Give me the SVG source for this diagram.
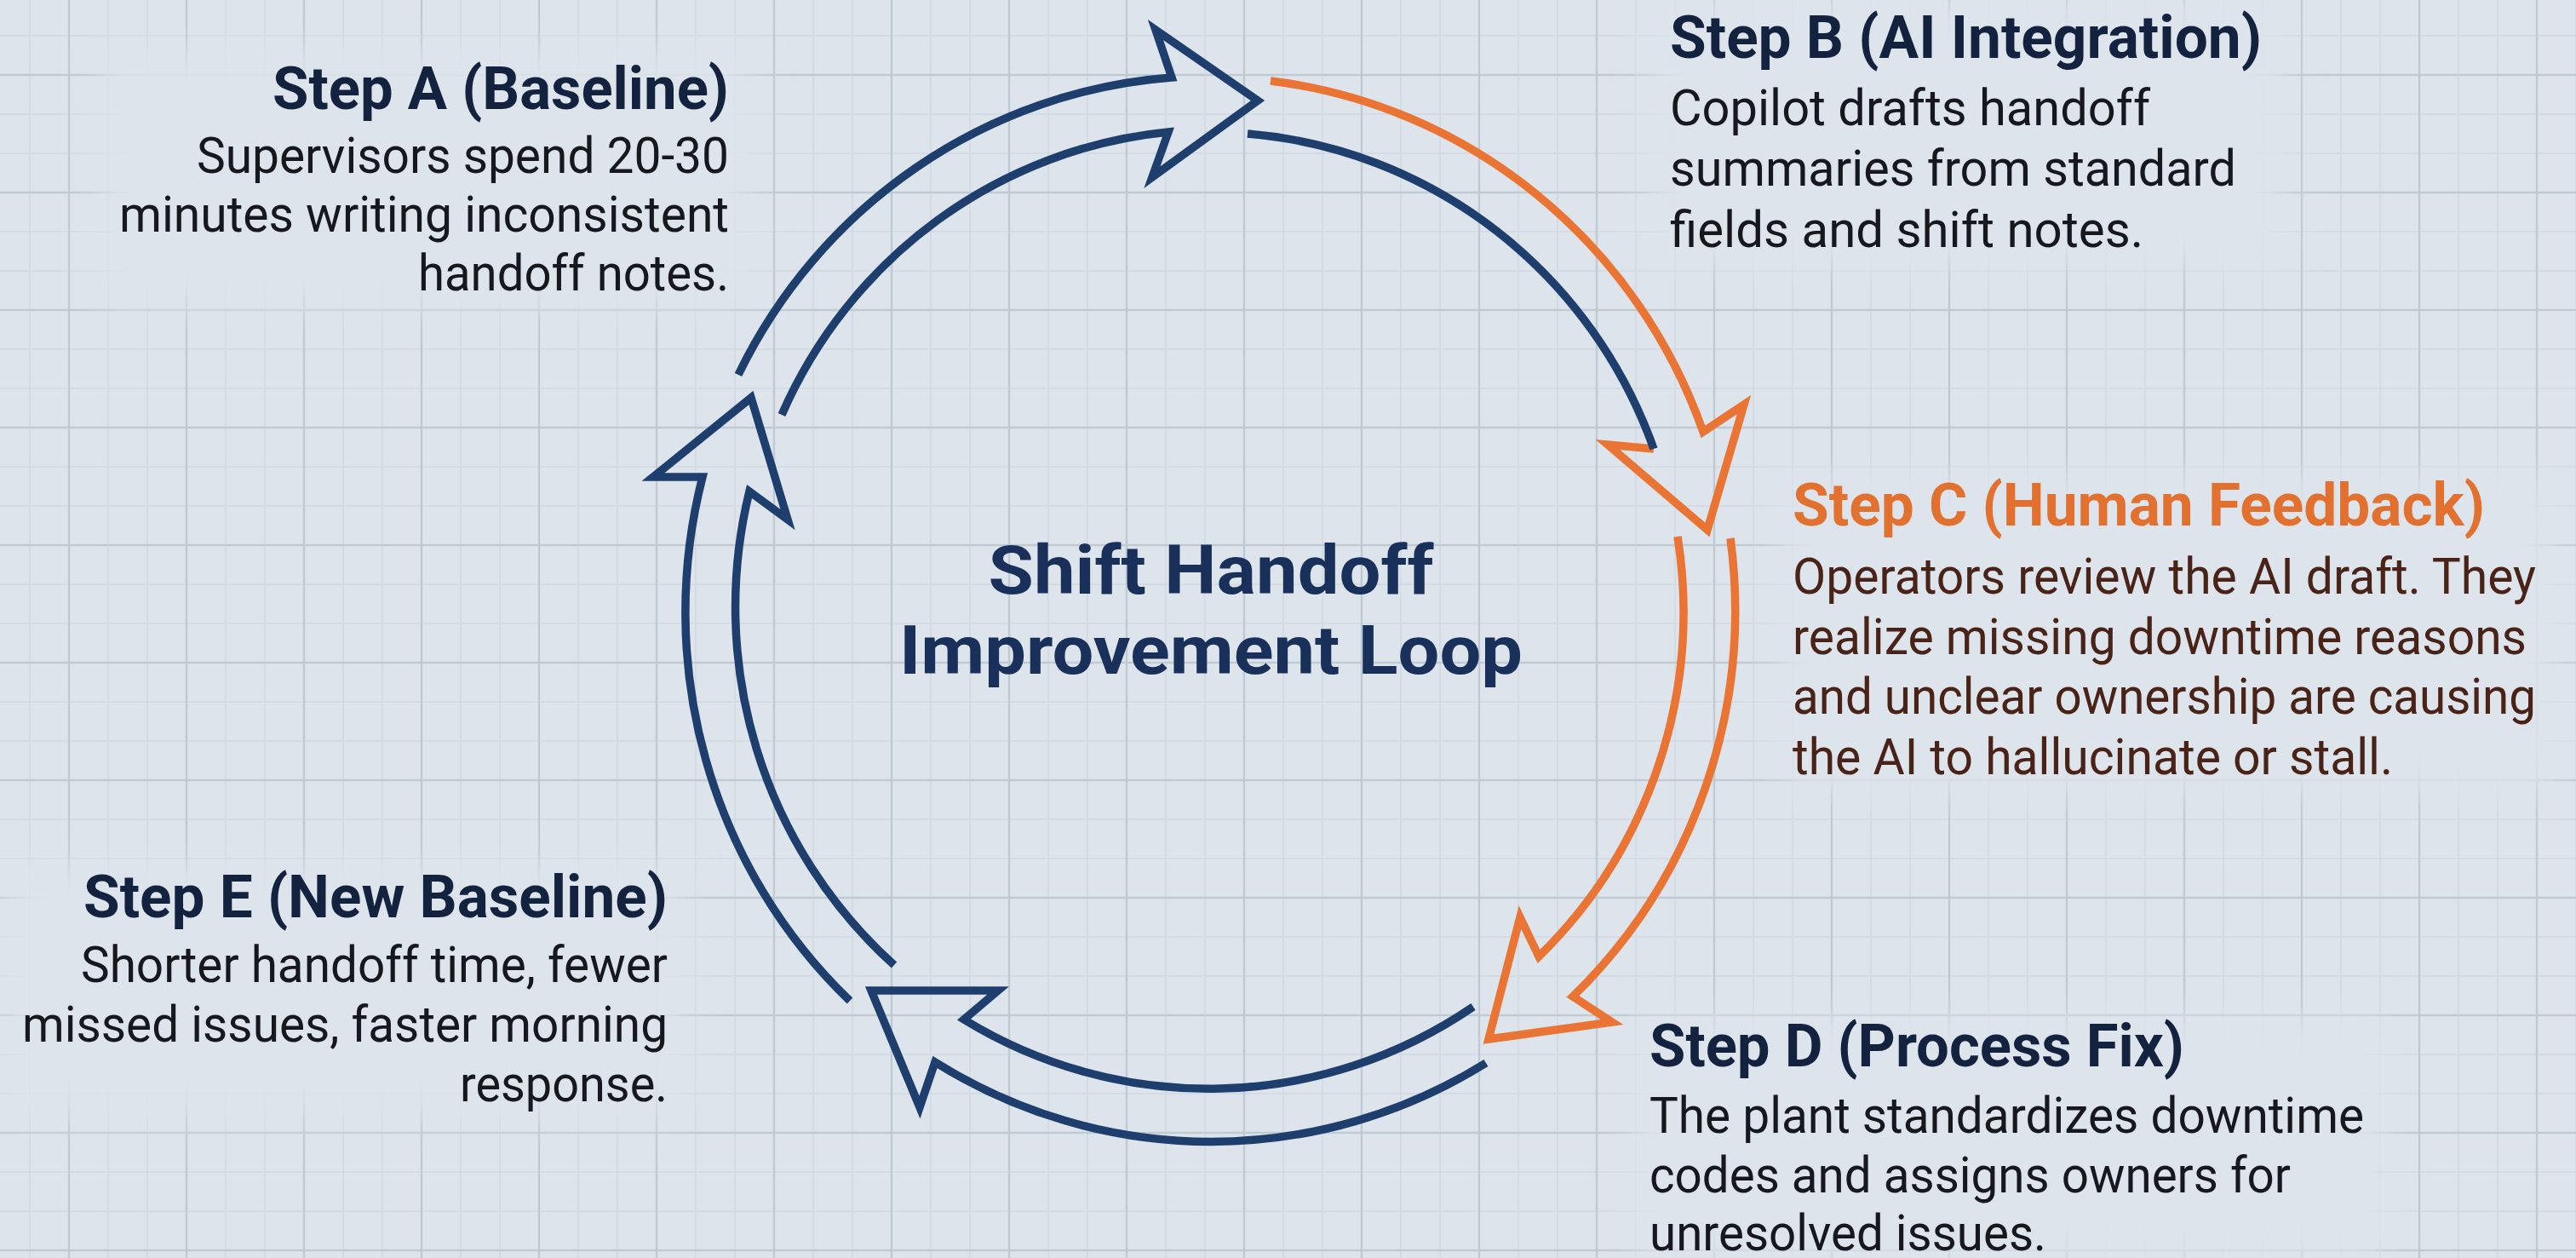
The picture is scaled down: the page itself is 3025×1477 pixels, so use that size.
<svg xmlns="http://www.w3.org/2000/svg" width="3025" height="1477" viewBox="0 0 3025 1477">
<defs>
<pattern id="grid" x="12" y="19" width="138" height="138" patternUnits="userSpaceOnUse">
<path d="M23 0V138M115 0V138M0 23H138M0 115H138" stroke="#d1d9e2" stroke-width="1.5" fill="none"/>
<path d="M69 0V138M0 69H138" stroke="#c0cad5" stroke-width="2.5" fill="none"/>
</pattern>
<filter id="soft" x="-20%" y="-30%" width="140%" height="160%"><feGaussianBlur stdDeviation="22"/></filter>
<style>
.bg{fill:#dde4eb}
.clear{fill:#dde4eb;filter:url(#soft)}
.h{font-family:Roboto,"Liberation Sans",sans-serif;font-weight:700;font-size:70px;fill:#13223f}
.b{font-family:Roboto,"Liberation Sans",sans-serif;font-weight:400;font-size:60px;fill:#16181d}
.end{text-anchor:end}
.hc{fill:#e2702e}
.bc{fill:#4a2318}
.t{font-family:Roboto,"Liberation Sans",sans-serif;font-weight:700;font-size:80px;fill:#18305a;text-anchor:middle}
.blue{fill:none;stroke:#1e3f6d;stroke-width:9.5;stroke-linejoin:miter;stroke-miterlimit:10}
.orange{fill:none;stroke:#ea7434;stroke-width:9.5;stroke-linejoin:miter;stroke-miterlimit:10}
</style>
</defs>
<rect class="bg" x="0" y="0" width="3025" height="1477"/>
<rect x="0" y="0" width="3025" height="1477" fill="url(#grid)"/>
<g id="halos">
<rect class="clear" x="120" y="60" width="760" height="300"/>
<rect class="clear" x="1940" y="5" width="740" height="305"/>
<rect class="clear" x="2090" y="560" width="910" height="370"/>
<rect class="clear" x="10" y="1015" width="790" height="295"/>
<rect class="clear" x="1920" y="1195" width="880" height="282"/>
</g>
<g id="connectors">
<path id="arrow-ab" class="blue" d="M867 440A618 628 0 0 1 1376 91L1357 35L1477 118L1353 208L1372 155A555 562 0 0 0 918 487"/>
<path id="arrow-bc" class="orange" d="M1492 95A618 628 0 0 1 2000 507L2048 475L2005 622L1888 522L1942 527"/>
<path id="arrow-bc-inner" class="blue" d="M1942 527A555 562 0 0 0 1465 157"/>
<path id="arrow-cd" class="orange" d="M2032 632A618 628 0 0 1 1847 1170L1893 1200L1748 1220L1785 1077L1807 1123A555 562 0 0 0 1970 630"/>
<path id="arrow-de" class="blue" d="M1745 1248A618 628 0 0 1 1098 1247L1080 1300L1023 1163L1172 1163L1132 1197A555 562 0 0 0 1730 1182"/>
<path id="arrow-ea" class="blue" d="M998 1175A618 628 0 0 1 825 560L767 560L882 467L925 610L880 577A555 562 0 0 0 1050 1133"/>
</g>
<g id="node-title">
<text class="t" x="1422" y="697" textLength="523" lengthAdjust="spacingAndGlyphs">Shift Handoff</text>
<text class="t" x="1422" y="791" textLength="732" lengthAdjust="spacingAndGlyphs">Improvement Loop</text>
</g>
<g id="node-a">
<text class="h end" x="856" y="128" textLength="536" lengthAdjust="spacingAndGlyphs">Step A (Baseline)</text>
<text class="b end" x="856" y="203" textLength="625" lengthAdjust="spacingAndGlyphs">Supervisors spend 20-30</text>
<text class="b end" x="856" y="272" textLength="716" lengthAdjust="spacingAndGlyphs">minutes writing inconsistent</text>
<text class="b end" x="856" y="341" textLength="365" lengthAdjust="spacingAndGlyphs">handoff notes.</text>
</g>
<g id="node-b">
<text class="h" x="1961" y="68" textLength="695" lengthAdjust="spacingAndGlyphs">Step B (AI Integration)</text>
<text class="b" x="1961" y="147" textLength="564" lengthAdjust="spacingAndGlyphs">Copilot drafts handoff</text>
<text class="b" x="1961" y="218" textLength="665" lengthAdjust="spacingAndGlyphs">summaries from standard</text>
<text class="b" x="1961" y="290" textLength="556" lengthAdjust="spacingAndGlyphs">fields and shift notes.</text>
</g>
<g id="node-c">
<text class="h hc" x="2105" y="617" textLength="813" lengthAdjust="spacingAndGlyphs">Step C (Human Feedback)</text>
<text class="b bc" x="2105" y="697" textLength="873" lengthAdjust="spacingAndGlyphs">Operators review the AI draft. They</text>
<text class="b bc" x="2105" y="768" textLength="862" lengthAdjust="spacingAndGlyphs">realize missing downtime reasons</text>
<text class="b bc" x="2105" y="838" textLength="873" lengthAdjust="spacingAndGlyphs">and unclear ownership are causing</text>
<text class="b bc" x="2105" y="909" textLength="705" lengthAdjust="spacingAndGlyphs">the AI to hallucinate or stall.</text>
</g>
<g id="node-d">
<text class="h" x="1937" y="1252" textLength="628" lengthAdjust="spacingAndGlyphs">Step D (Process Fix)</text>
<text class="b" x="1937" y="1330" textLength="839" lengthAdjust="spacingAndGlyphs">The plant standardizes downtime</text>
<text class="b" x="1937" y="1400" textLength="753" lengthAdjust="spacingAndGlyphs">codes and assigns owners for</text>
<text class="b" x="1937" y="1468" textLength="466" lengthAdjust="spacingAndGlyphs">unresolved issues.</text>
</g>
<g id="node-e">
<text class="h end" x="784" y="1077" textLength="686" lengthAdjust="spacingAndGlyphs">Step E (New Baseline)</text>
<text class="b end" x="784" y="1153" textLength="689" lengthAdjust="spacingAndGlyphs">Shorter handoff time, fewer</text>
<text class="b end" x="784" y="1223" textLength="758" lengthAdjust="spacingAndGlyphs">missed issues, faster morning</text>
<text class="b end" x="784" y="1293" textLength="244" lengthAdjust="spacingAndGlyphs">response.</text>
</g>
</svg>
